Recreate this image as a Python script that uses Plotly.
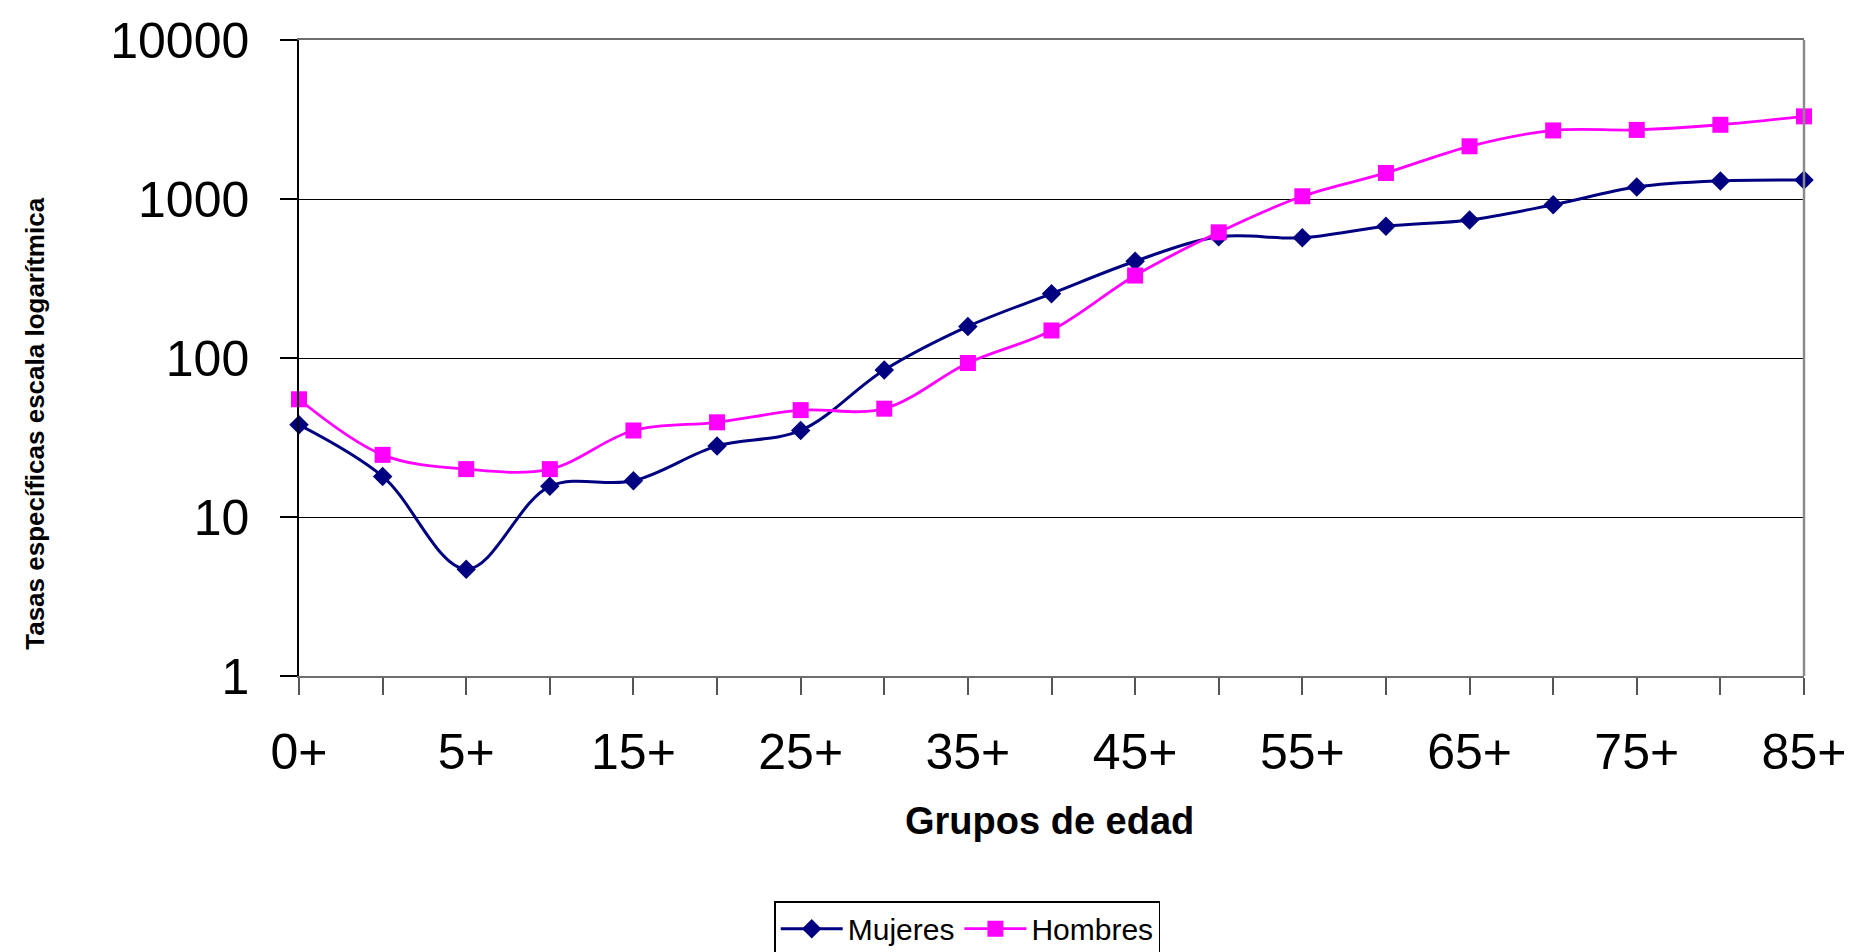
import plotly.graph_objects as go

categories = ["0+", "1+", "5+", "10+", "15+", "20+", "25+", "30+", "35+", "40+",
              "45+", "50+", "55+", "60+", "65+", "70+", "75+", "80+", "85+"]
mujeres = [38, 18, 4.7, 15.6, 16.9, 28, 35, 84, 158, 254,
           406, 578, 570, 673, 738, 920, 1190, 1300, 1316]
hombres = [55, 24.6, 20, 20, 35, 39.4, 47, 48, 93, 149,
           330, 617, 1040, 1458, 2145, 2700, 2720, 2930, 3310]
tick_labels = [c if i % 2 == 0 else "" for i, c in enumerate(categories)]
y_ticks = [1, 10, 100, 1000, 10000]

FONT = "Liberation Sans, Arial, sans-serif"

fig = go.Figure()
fig.add_trace(go.Scatter(
    x=categories, y=mujeres, name="Mujeres", mode="lines+markers",
    line=dict(color="#000080", width=3, shape="spline", smoothing=1.0),
    marker=dict(symbol="diamond", size=15, color="#000080"),
    cliponaxis=False,
))
fig.add_trace(go.Scatter(
    x=categories, y=hombres, name="Hombres", mode="lines+markers",
    line=dict(color="#FF00FF", width=2.8, shape="spline", smoothing=1.0),
    marker=dict(symbol="square", size=16, color="#FF00FF"),
    cliponaxis=False,
))

fig.update_layout(
    width=1863, height=952,
    margin=dict(l=291, r=67, t=32, b=284, autoexpand=False),
    paper_bgcolor="white", plot_bgcolor="white",
    font=dict(family=FONT, color="black"),
    showlegend=True,
    legend=dict(
        orientation="h", x=0.444, xanchor="center", y=-0.354, yanchor="top",
        bordercolor="black", borderwidth=1.5, bgcolor="white",
        font=dict(size=30, family=FONT), itemwidth=62,
    ),
    xaxis=dict(
        type="category", range=[0, 18],
        tickmode="array", tickvals=categories, ticktext=tick_labels,
        ticks="outside", ticklen=17, tickcolor="#555555", tickwidth=1.5,
        tickfont=dict(size=50, family=FONT), ticklabelstandoff=14,
        showline=True, linecolor="#6e6e6e", linewidth=2, mirror=True,
        showgrid=False, zeroline=False,
    ),
    yaxis=dict(
        type="log", range=[0, 4],
        tickmode="array", tickvals=y_ticks, ticktext=[str(v) for v in y_ticks],
        ticks="outside", ticklen=17, tickcolor="black", tickwidth=1.5,
        tickfont=dict(size=50, family=FONT), ticklabelstandoff=21,
        showline=True, linecolor="black", linewidth=1.5, mirror=False,
        showgrid=True, gridcolor="black", gridwidth=1.2, zeroline=False,
    ),
    shapes=[dict(type="line", xref="paper", yref="paper", x0=1, x1=1, y0=0, y1=1,
                 line=dict(color="#8a8a8a", width=2.5))],
    annotations=[
        dict(text="<b>Grupos de edad</b>", xref="paper", yref="paper",
             x=0.499, y=-0.228, xanchor="center", yanchor="middle",
             showarrow=False, font=dict(size=38, family=FONT)),
        dict(text="<b>Tasas específicas escala logarítmica</b>", xref="paper", yref="paper",
             x=-0.175, y=0.396, xanchor="center", yanchor="middle", textangle=-90,
             showarrow=False, font=dict(size=26, family=FONT)),
    ],
)

fig.write_html("out.html")
